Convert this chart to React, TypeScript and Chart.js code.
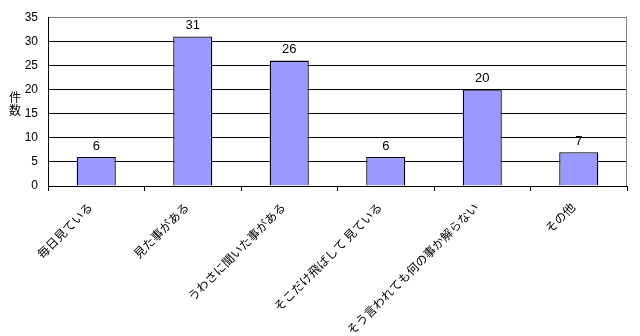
import React, { useEffect, useRef } from "react";
import { Chart, registerables } from "chart.js";

Chart.register(...registerables);

const categories = [
  "毎日見ている",
  "見た事がある",
  "うわさに聞いた事がある",
  "そこだけ飛ばして 見ている",
  "そう言われても何の事か解らない",
  "その他",
];
const counts = [6, 31, 26, 6, 20, 7];
const yMin = 0;
const yMax = 35;
const yStep = 5;
const yTitleChars = ["件", "数"];

const JP_FONT = "'Noto Sans CJK JP', 'Noto Sans', sans-serif";
const NUM_FONT = "'Liberation Sans', Arial, sans-serif";

const extrasPlugin = {
  id: "extras",
  beforeDatasetsDraw(chart: any) {
    const ctx = chart.ctx;
    const { top, right, bottom } = chart.chartArea;
    ctx.save();
    ctx.strokeStyle = "#808080";
    ctx.lineWidth = 1;
    ctx.beginPath();
    const rx = Math.round(right) - 0.5;
    ctx.moveTo(rx, Math.round(top) - 0.5);
    ctx.lineTo(rx, Math.round(bottom));
    ctx.stroke();
    ctx.restore();
  },
  afterDatasetsDraw(chart: any) {
    const ctx = chart.ctx;
    const meta = chart.getDatasetMeta(0);
    ctx.save();
    ctx.fillStyle = "#000";
    ctx.font = `13px ${NUM_FONT}`;
    ctx.textAlign = "center";
    ctx.textBaseline = "middle";
    meta.data.forEach((bar: any, i: number) => {
      ctx.fillText(String(counts[i]), bar.x, bar.y - 11);
    });
    // vertical y-axis title
    ctx.font = `12px ${JP_FONT}`;
    const cy = (chart.chartArea.top + chart.chartArea.bottom) / 2;
    yTitleChars.forEach((ch, i) => {
      ctx.fillText(ch, 15, cy - 4 + i * 13);
    });
    ctx.restore();
  },
};

export default function App() {
  const ref = useRef<HTMLCanvasElement | null>(null);
  useEffect(() => {
    document.body.style.margin = "0";
    const canvas = ref.current!;
    const chart = new Chart(canvas, {
      type: "bar",
      data: {
        labels: categories,
        datasets: [
          {
            data: counts,
            backgroundColor: "#9999FF",
            borderColor: "#000000",
            borderWidth: 1.3,
            categoryPercentage: 1,
            barPercentage: 0.405,
          },
        ],
      },
      options: {
        responsive: false,
        animation: false,
        devicePixelRatio: 1,
        layout: { padding: { left: 0, right: 13, top: 17, bottom: 0 } },
        plugins: {
          legend: { display: false },
          tooltip: { enabled: false },
          title: { display: false },
        },
        scales: {
          x: {
            grid: {
              offset: true,
              drawOnChartArea: false,
              drawTicks: true,
              tickLength: 5,
              color: "#000",
            },
            border: { display: true, color: "#000" },
            ticks: {
              minRotation: 45,
              maxRotation: 45,
              autoSkip: false,
              padding: 9,
              labelOffset: -6,
              color: "#000",
              font: { family: JP_FONT, size: 12 },
            },
            afterFit: (scale: any) => {
              scale.height = 150;
            },
          },
          y: {
            min: yMin,
            max: yMax,
            ticks: {
              stepSize: yStep,
              color: "#000",
              padding: 10,
              font: { family: NUM_FONT, size: 12 },
            },
            grid: {
              drawTicks: false,
              color: (c: any) => (c.tick && c.tick.value === yMax ? "#808080" : "#000"),
            },
            border: { display: true, color: "#000" },
            afterFit: (scale: any) => {
              scale.width = 48;
            },
          },
        },
      },
      plugins: [extrasPlugin],
    });
    return () => chart.destroy();
  }, []);
  return (
    <canvas
      ref={ref}
      width={640}
      height={336}
      style={{ display: "block", width: 640, height: 336 }}
    />
  );
}
